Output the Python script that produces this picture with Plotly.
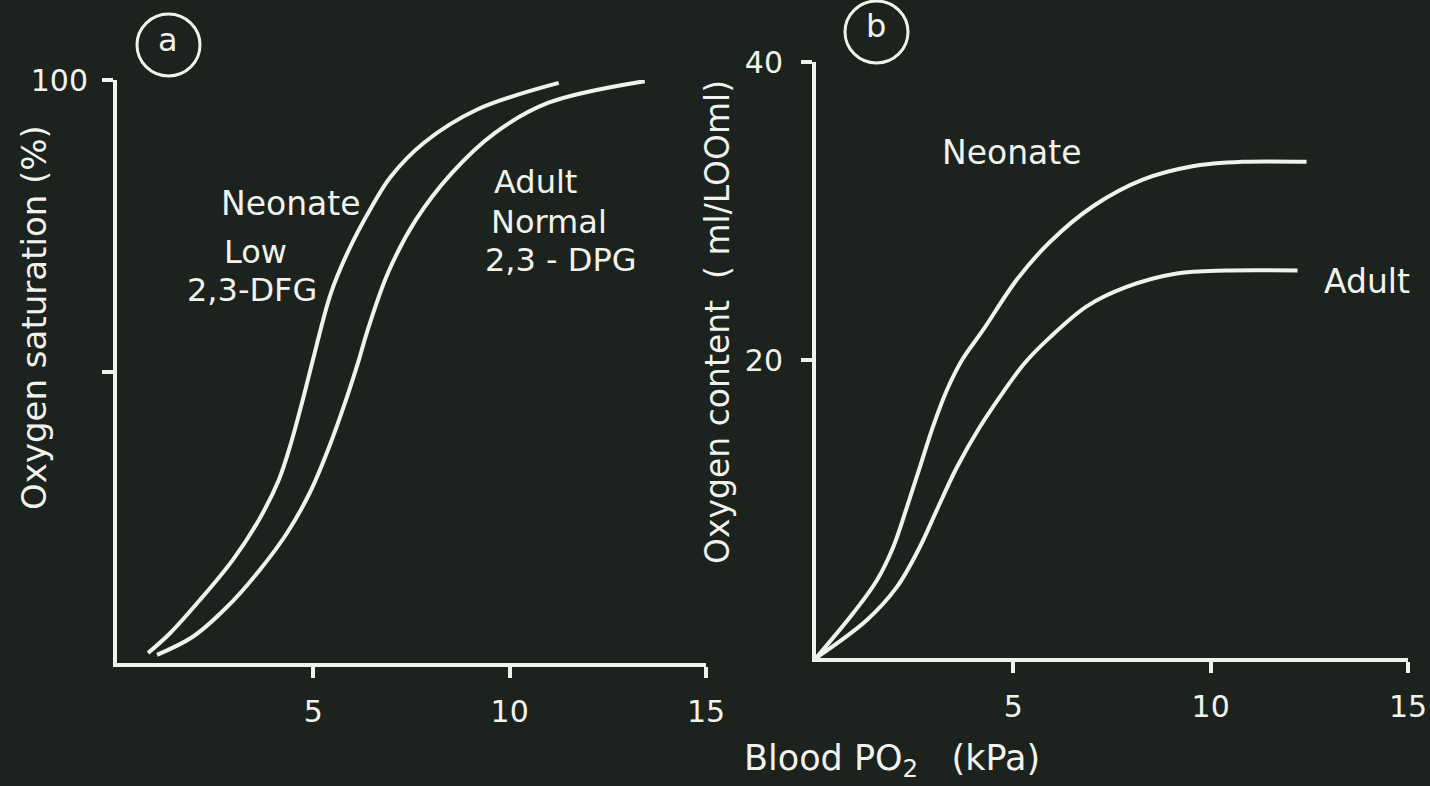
import plotly.graph_objects as go

# ---- data ----
a_neonate_po2 = [0.79, 1.35, 2.11, 2.95, 3.61, 4.12, 4.43, 4.71, 4.99, 5.45, 5.90, 6.44, 6.97, 7.81, 9.16, 11.25]
a_neonate_sat = [1.7, 5.1, 10.8, 17.7, 24.5, 31.4, 37.7, 44.6, 52.0, 63.5, 70.8, 77.7, 83.4, 89.2, 94.9, 99.5]
a_adult_po2 = [1.02, 1.93, 2.80, 3.64, 4.33, 4.91, 5.37, 5.83, 6.16, 6.36, 6.90, 7.61, 8.52, 9.62, 10.99, 13.44]
a_adult_sat = [1.4, 4.5, 9.6, 16.0, 22.3, 29.2, 36.5, 45.1, 52.0, 56.6, 66.9, 76.0, 84.0, 90.9, 96.1, 99.8]

b_neonate_po2 = [0, 0.94, 1.54, 1.95, 2.30, 2.63, 2.96, 3.32, 3.70, 4.23, 5.09, 5.92, 7.01, 8.28, 9.54, 10.81, 12.43]
b_neonate_o2 = [0, 3.0, 5.2, 7.4, 10.1, 12.8, 15.5, 18.0, 20.0, 22.0, 25.4, 27.9, 30.3, 32.1, 33.0, 33.3, 33.3]
b_adult_po2 = [0, 1.29, 2.05, 2.63, 3.06, 3.57, 4.15, 4.73, 5.29, 5.92, 6.86, 7.87, 9.14, 10.41, 12.2]
b_adult_o2 = [0, 2.55, 4.77, 7.45, 9.93, 12.8, 15.5, 17.8, 19.8, 21.5, 23.6, 24.9, 25.8, 26.0, 26.0]

x_tickvals = [5, 10, 15]
x_ticktext = ["5", "10", "15"]
a_y_tickvals = [100]
a_y_ticktext = ["100"]
a_y_minor_tickvals = [50]
b_y_tickvals = [20, 40]
b_y_ticktext = ["20", "40"]

# ---- style ----
W, H = 1430, 786
BG = "#1c221e"
FG = "#f2f2ec"
FONT = "DejaVu Sans"
LW = 4


def px(x):
    return x / W


def py(y):
    return 1 - y / H


fig = go.Figure()
line_style = dict(color=FG, width=LW, shape="spline", smoothing=1.0)
fig.add_trace(go.Scatter(x=a_neonate_po2, y=a_neonate_sat, mode="lines", line=line_style,
                         xaxis="x", yaxis="y", name="Neonate"))
fig.add_trace(go.Scatter(x=a_adult_po2, y=a_adult_sat, mode="lines", line=line_style,
                         xaxis="x", yaxis="y", name="Adult"))
fig.add_trace(go.Scatter(x=b_neonate_po2, y=b_neonate_o2, mode="lines", line=line_style,
                         xaxis="x2", yaxis="y2", name="Neonate"))
fig.add_trace(go.Scatter(x=b_adult_po2, y=b_adult_o2, mode="lines", line=line_style,
                         xaxis="x2", yaxis="y2", name="Adult"))

ax_common = dict(showgrid=False, zeroline=False, showline=True, linecolor=FG, linewidth=LW,
                 ticks="outside", tickcolor=FG, tickwidth=LW, ticklen=11, automargin=False,
                 tickfont=dict(family=FONT, size=30, color=FG), fixedrange=True)

fig.update_layout(
    width=W, height=H,
    margin=dict(l=0, r=0, t=0, b=0, pad=0, autoexpand=False),
    paper_bgcolor=BG, plot_bgcolor=BG,
    showlegend=False,
    font=dict(family=FONT, color=FG),
    xaxis=dict(**ax_common, domain=[px(117), px(706)], range=[0, 15], anchor="y",
               tickvals=x_tickvals, ticktext=x_ticktext, ticklabelstandoff=8),
    yaxis=dict(**ax_common, domain=[py(663), py(80)], range=[0, 100], anchor="x",
               tickvals=a_y_tickvals, ticktext=a_y_ticktext, ticklabelstandoff=8,
               minor=dict(tickvals=a_y_minor_tickvals, ticks="outside", ticklen=11,
                          tickwidth=LW, tickcolor=FG, showgrid=False)),
    xaxis2=dict(**ax_common, domain=[px(816), px(1408)], range=[0, 15], anchor="y2",
                tickvals=x_tickvals, ticktext=x_ticktext, ticklabelstandoff=8),
    yaxis2=dict(**ax_common, domain=[py(658), py(62)], range=[0, 40], anchor="x2",
                tickvals=b_y_tickvals, ticktext=b_y_ticktext, ticklabelstandoff=12),
)


def label(text, x, y, size=32, xanchor="left", angle=0):
    fig.add_annotation(text=text, x=px(x), y=py(y), xref="paper", yref="paper",
                       xanchor=xanchor, yanchor="middle", showarrow=False, textangle=angle,
                       font=dict(family=FONT, size=size, color=FG))


# panel a labels
label("Neonate", 219, 203, size=33)
label("Low", 222, 252)
label("2,3-DFG", 185, 290)
label("Adult", 492, 182)
label("Normal", 489, 222)
label("2,3 - DPG", 483, 260)

# panel b labels
label("Neonate", 940, 153, size=33)
label("Adult", 1322, 281, size=33)

# axis titles
label("Oxygen saturation (%)", 34, 318, size=34, xanchor="center", angle=-90)
label("Oxygen content  ( ml/LOOml)", 717, 322, size=33, xanchor="center", angle=-90)
label("Blood PO<sub>2</sub>   (kPa)", 892, 760, size=35, xanchor="center")

# circled panel letters
label("a", 168, 40, size=32, xanchor="center")
label("b", 876, 26, size=32, xanchor="center")
fig.add_shape(type="circle", xref="paper", yref="paper",
              x0=px(137), x1=px(200), y0=py(76), y1=py(14), line=dict(color=FG, width=3))
fig.add_shape(type="circle", xref="paper", yref="paper",
              x0=px(845), x1=px(908), y0=py(63), y1=py(1), line=dict(color=FG, width=3))

fig.write_html("out.html")
